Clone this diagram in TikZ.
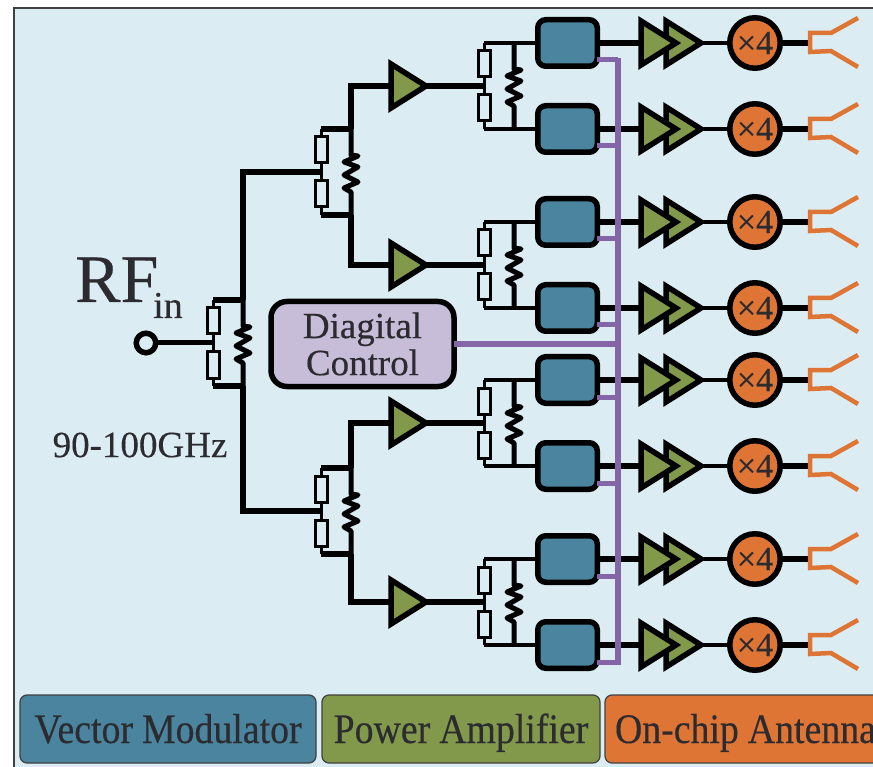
\documentclass[tikz,border=0pt]{standalone}
\usepackage{fontspec}
\setmainfont[FakeBold=0.3]{Liberation Serif}
\newfontfamily\legendfont[FakeStretch=0.9,FakeBold=0.3]{Liberation Serif}
\newcommand{\legendtext}{\legendfont\fontsize{42}{44}\selectfont\spaceskip=9pt\relax}
\usetikzlibrary{shapes.geometric}
\definecolor{panelblue}{HTML}{DCECF3}
\definecolor{vmblue}{HTML}{4A849E}
\definecolor{pagreen}{HTML}{82984B}
\definecolor{antorange}{HTML}{DE7535}
\definecolor{ctrlpurple}{HTML}{C7BDD8}
\definecolor{buspurple}{HTML}{8466A8}
\definecolor{inkgray}{HTML}{2B2B30}
\tikzset{
  wire/.style={draw=black, line width=5.5pt},
  railwire/.style={draw=black, line width=3pt},
  ctrlbus/.style={draw=buspurple, line width=5pt},
  antline/.style={draw=antorange, line width=4.5pt},
  divres/.style={draw=black, line width=3pt, minimum width=12pt, minimum height=26pt, inner sep=0pt, outer sep=0pt},
  vmbox/.style={draw=black, fill=vmblue, line width=5.5pt, rounded corners=8pt, minimum width=59.5pt, minimum height=46.5pt, inner sep=0pt, outer sep=0pt},
  ampbox/.style={isosceles triangle, isosceles triangle stretches, draw=black, fill=pagreen, line width=5.5pt, minimum width=44pt, minimum height=35pt, inner sep=0pt, outer sep=0pt, anchor=lower side},
  mulbox/.style={circle, draw=black, fill=antorange, line width=5.5pt, minimum size=50.5pt, inner sep=0pt, outer sep=0pt, text=inkgray, font=\fontsize{34}{36}\selectfont},
  legendbox/.style={draw=black!75, line width=1.2pt, rounded corners=7pt, minimum height=68pt, inner sep=0pt, outer sep=0pt, text height=36pt, text depth=8pt, text=inkgray, font=\legendtext},
}
\newcommand{\splitter}[4]{
\coordinate (#1m) at (#2,#3);
\coordinate (#1t) at (#2,#3-43);
\coordinate (#1b) at (#2,#3+43);
\coordinate (#1u) at (#2+30,#3-43);
\coordinate (#1d) at (#2+30,#3+43);
\node[divres] (#1a) at (#2,#3-22) {};
\node[divres] (#1c) at (#2,#3+22) {};
\draw[railwire] (#1t) -- (#1a) (#1a) -- (#1c) (#1c) -- (#1b);
\draw[wire, line width=#4] (#1t) -- (#1u) (#1d) -- (#1b);
\draw[wire, line width=5pt, line join=round] (#1u) -- ++(0,26) -- ++(7,1) -- ++(-14,6) -- ++(14,5) -- ++(-14,8) -- ++(14,7) -- ++(-14,6) -- ++(7,4) -- (#1d);
}
\begin{document}
\begin{tikzpicture}[x=1pt,y=-1pt]
\useasboundingbox (0,0) rectangle (873,767);
\clip (0,0) rectangle (873,767);
\draw[draw=black!75, line width=2pt, fill=panelblue] (14,780) -- (14,8) -- (890,8) -- (890,780) -- cycle;
\foreach \i/\yy in {1/43,2/129,3/222,4/308,5/380,6/466,7/559,8/645}{
\node[vmbox] (vm\i) at (567.5,\yy) {};
\node[ampbox] (pb\i) at (666,\yy) {};
\node[ampbox] (pa\i) at (641,\yy) {};
\node[mulbox] (mul\i) at (755,\yy) {×4};
\coordinate (ant\i) at (810,\yy);
\coordinate (tap\i) at ([yshift=-17pt]vm\i.east);
\draw[wire] (vm\i.east) -- (pa\i.lower side);
\draw[wire, line width=4.5pt] (pb\i.apex) -- (mul\i.west);
\draw[wire] (mul\i.east) -- (ant\i);
\draw[antline] (858,\yy-25) -- (831,\yy-10) -- (810,\yy-10) -- (810,\yy+9) -- (831,\yy+8) -- (858,\yy+24);
}
\foreach \k/\yy/\up/\dn in {1/86/1/2,2/265/3/4,3/423/5/6,4/602/7/8}{
\splitter{sp\k}{484}{\yy}{4.5pt}
\node[ampbox] (drv\k) at (391,\yy) {};
\draw[wire] (drv\k.apex) -- (sp\k m);
\draw[wire, line width=4.5pt] (sp\k u) -- (vm\up.west);
\draw[wire, line width=4.5pt] (sp\k d) -- (vm\dn.west);
}
\splitter{spu}{321}{172}{5.5pt}
\splitter{spl}{321}{511}{5.5pt}
\splitter{spin}{213}{343}{6pt}
\draw[wire] (spuu) |- (drv1.lower side);
\draw[wire] (spud) |- (drv2.lower side);
\draw[wire] (splu) |- (drv3.lower side);
\draw[wire] (spld) |- (drv4.lower side);
\draw[wire] (spinu) |- (spum);
\draw[wire] (spind) |- (splm);
\node[circle, draw=black, line width=5.5pt, minimum size=19.5pt, inner sep=0pt, outer sep=0pt] (rfport) at (146,343) {};
\draw[wire, line width=5pt] (rfport) -- (spinm);
\node[anchor=base west, inner sep=0pt, text=inkgray, font=\fontsize{68}{70}\selectfont] (rflabel) at (75,302) {RF};
\node[anchor=base west, inner sep=0pt, text=inkgray, font=\fontsize{38}{40}\selectfont] (inlabel) at (153,318) {in};
\node[inner sep=0pt, text=inkgray, font=\fontsize{37}{40}\selectfont] (bandlabel) at (140,445) {90-100GHz};
\node[draw=black, fill=ctrlpurple, line width=5.5pt, rounded corners=16pt, minimum width=183pt, minimum height=85pt, inner sep=0pt, outer sep=0pt, align=center, text=inkgray, font=\fontsize{37}{37}\selectfont] (ctrl) at (362.5,344) {Diagital\\Control};
\coordinate (bustop) at (618,58);
\coordinate (busend) at (618,665);
\draw[ctrlbus, line width=6.5pt] (bustop) -- (busend);
\foreach \i in {1,...,8}{
\draw[ctrlbus] (tap\i) -- (tap\i -| bustop);
}
\draw[ctrlbus, line width=6pt] (ctrl.east) -- (ctrl.east -| bustop);
\node[legendbox, fill=vmblue, minimum width=296pt] (vmlegend) at (168,729) {Vector Modulator};
\node[legendbox, fill=pagreen, minimum width=278pt] (palegend) at (461,729) {Power Amplifier};
\node[legendbox, fill=antorange, anchor=west] (antlegend) at (605,729) {\makebox[290pt][l]{\hspace*{10pt}On-chip Antenna}};
\end{tikzpicture}
\end{document}
